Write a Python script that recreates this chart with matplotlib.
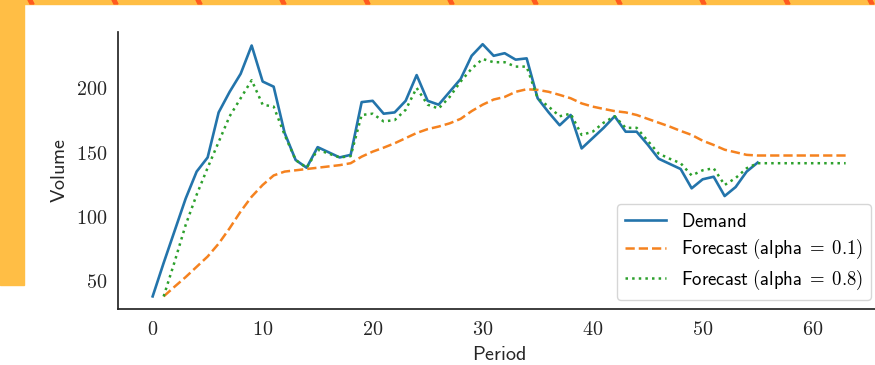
import numpy as np
import matplotlib.pyplot as plt
from matplotlib.patches import Rectangle, Polygon
from matplotlib.ticker import FuncFormatter

plt.rcParams['mathtext.fontset'] = 'cm'

# demand, periods 0..55
demand = [38, 64, 89, 114, 135, 146, 181, 197, 211, 233,
          205, 201, 165, 144, 138, 154, 150, 146, 148, 189,
          190, 180, 181, 190, 210, 190, 187, 197, 207, 225,
          234, 225, 227, 222, 223, 192, 181, 171, 179, 153,
          161, 169, 178, 166, 166, 156, 145, 141, 137, 122,
          129, 131, 116, 123, 135, 142]

# forecasts, periods 1..63
forecast_01 = [38, 45.6, 53, 61, 69, 79, 91, 104, 115.5, 124.6,
               132, 135, 136, 137, 138, 139, 140, 141.5, 146.6, 150.5,
               153.6, 157, 161, 165, 168, 170, 172.5, 176, 182, 187,
               191, 193, 197, 199, 198.5, 197, 194.6, 192, 188, 185.5,
               183.7, 182, 181, 179, 176, 173, 170, 166.6, 163.5, 159,
               155.7, 152, 150, 148, 147.5, 147.5, 147.5, 147.5, 147.5, 147.5,
               147.5, 147.5, 147.5]

forecast_08 = [38, 65, 93.5, 117, 138, 158, 178, 192, 206, 187,
               185.5, 163.5, 144, 138, 152, 149, 146, 147, 179, 180,
               174, 175, 183, 200, 187, 184, 193, 205, 215, 222.5,
               220, 220, 216.6, 216.6, 192, 185.5, 178, 180, 163.5, 166,
               173, 178, 169, 169, 159, 149, 145, 141.5, 132, 136,
               137.6, 124.6, 130, 137.6, 141.5, 141.5, 141.5, 141.5, 141.5, 141.5,
               141.5, 141.5, 141.5]

labels = [r"$\mathsf{Demand}$",
          r"$\mathsf{Forecast\ (alpha}\;=\;\mathsf{0.1)}$",
          r"$\mathsf{Forecast\ (alpha}\;=\;\mathsf{0.8)}$"]

W, H = 875, 365
fig = plt.figure(figsize=(W / 100, H / 100), dpi=100)

# frame decoration (orange band with stripes)
band = '#FFBE45'
fig.patches.append(Rectangle((0, 1 - 285 / H), 24 / W, 285 / H, transform=fig.transFigure,
                             color=band, zorder=-2))
fig.patches.append(Rectangle((0, 1 - 4 / H), 1, 4 / H, transform=fig.transFigure,
                             color=band, zorder=-2))
for xs in range(28, W, 84):
    pts = [(xs / W, 1), ((xs + 4) / W, 1), ((xs + 6) / W, 1 - 4 / H), ((xs + 2) / W, 1 - 4 / H)]
    fig.patches.append(Polygon(pts, closed=True, transform=fig.transFigure,
                               color='#FF5A1F', zorder=-1))

ax = fig.add_axes([118 / W, 56 / H, 762.3 / W, 277.4 / H])

t_d = np.arange(len(demand))
t_f = np.arange(1, len(forecast_01) + 1)
ax.plot(t_d, demand, '-', color='#2374ab', lw=1.9, label=labels[0])
ax.plot(t_f, forecast_01, '--', color='#f5821f', lw=1.8, label=labels[1])
ax.plot(t_f, forecast_08, ':', color='#2ca02c', lw=1.8, label=labels[2])

fmt = FuncFormatter(lambda v, p: f"${v:.0f}$")
ax.xaxis.set_major_formatter(fmt)
ax.yaxis.set_major_formatter(fmt)
ax.tick_params(length=0, labelsize=14.5, pad=8, colors='.15')

for s in ['top', 'right']:
    ax.spines[s].set_visible(False)
for s in ['left', 'bottom']:
    ax.spines[s].set_color('.15')
    ax.spines[s].set_linewidth(1.25)

ax.set_xlabel(r"$\mathsf{Period}$", fontsize=14.5, labelpad=4, color='.15')
ax.set_ylabel(r"$\mathsf{Volume}$", fontsize=14.5, labelpad=5, color='.15')

leg = ax.legend(loc='lower right', fontsize=13.5, frameon=True, handlelength=2.2,
                labelspacing=0.35, borderpad=0.4)
leg.get_frame().set_edgecolor('0.8')

fig.savefig('out.png', dpi=100, facecolor='white')
